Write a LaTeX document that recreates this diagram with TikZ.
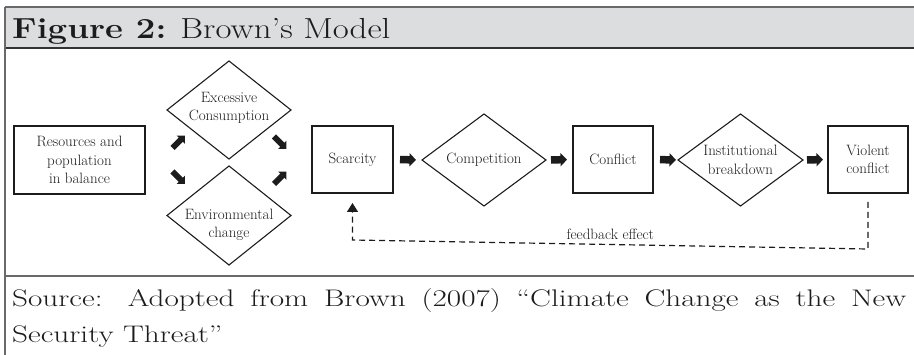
\documentclass[tikz,border=0pt]{standalone}
\usepackage{graphicx}
\usetikzlibrary{shapes.geometric,arrows.meta}

\definecolor{headgray}{RGB}{220,221,222}
\definecolor{rulegray}{RGB}{105,105,105}
\definecolor{ink}{RGB}{28,28,28}

\newcommand\diagfont{\fontsize{15}{18.5}\selectfont}
\newcommand\notefont{\fontsize{24}{36}\selectfont}

\begin{document}
\begin{tikzpicture}[x=1pt,y=-1pt,
  box/.style={draw=ink, line width=1.1pt, rectangle, inner sep=0pt, outer sep=0pt,
    align=center, font=\diagfont, text=ink},
  dia/.style={draw=ink, line width=1.1pt, diamond, inner sep=0pt, outer sep=0pt,
    minimum width=124pt},
  lbl/.style={inner sep=0pt, align=center, font=\diagfont, text=ink},
  note/.style={anchor=base west, inner sep=0pt, text=ink, font=\notefont},
  blockarrow/.style={draw=ink, line width=7.5pt, -{Triangle[length=6.5pt,width=13pt]}},
  smallarrow/.style={draw=ink, line width=6pt, -{Triangle[length=6pt,width=11.5pt]}},
  feedback/.style={draw=ink, line width=1.2pt, dash pattern=on 6pt off 4pt,
    -{Triangle[length=9pt,width=11pt]}}
]
\useasboundingbox (0,0) rectangle (914,355);

% header band and frame
\fill[headgray] (5,7) rectangle (914,48);
\draw[rulegray, line width=2pt] (5,7) -- (914,7);
\draw[ink!90, line width=2pt] (5,48) -- (914,48);
\draw[rulegray, line width=1.5pt] (5,7) -- (5,355);
\draw[rulegray, line width=1.5pt] (5,276) -- (914,276);

\node[anchor=base west, inner sep=0pt, text=ink, font=\fontsize{29}{32}\selectfont]
  (title) at (12,39) {\scalebox{1.2}[1]{\textbf{Figure 2:} Brown’s Model}};

% boxes
\node[box, minimum width=131pt, minimum height=68pt] (res) at (79.5,160)
  {Resources and\\population\\in balance};
\node[box, minimum width=81pt, minimum height=67pt] (scar) at (352.5,159.5) {Scarcity};
\node[box, minimum width=80pt, minimum height=67pt] (conf) at (613,159.5) {Conflict};
\node[box, minimum width=80pt, minimum height=67pt] (viol) at (868,159.5)
  {Violent\\conflict};

% diamonds
\node[dia, minimum height=98pt] (exc) at (229,110) {};
\node[lbl] (exct) at (229,108) {Excessive\\Consumption};
\node[dia, minimum height=99pt] (env) at (229,215.5) {};
\node[lbl] (envt) at (229,225) {Environmental\\change};
\node[dia, minimum height=92pt] (comp) at (484,160) {};
\node[lbl] (compt) at (484,160) {Competition};
\node[dia, minimum width=125pt, minimum height=92pt] (inst) at (740.5,160) {};
\node[lbl] (instt) at (740.5,160) {Institutional\\breakdown};

% diagonal arrows around the two drivers
\coordinate (a1s) at (172.5,148);   \coordinate (a1e) at (185,135.5);
\coordinate (a2s) at (172.5,171.5); \coordinate (a2e) at (185,184);
\coordinate (a3s) at (274,136.5);   \coordinate (a3e) at (286.5,149);
\coordinate (a4s) at (274,184);     \coordinate (a4e) at (286.5,171.5);
\draw[smallarrow] (a1s) -- (a1e);
\draw[smallarrow] (a2s) -- (a2e);
\draw[smallarrow] (a3s) -- (a3e);
\draw[smallarrow] (a4s) -- (a4e);

% main chain
\draw[blockarrow, shorten <=7pt, shorten >=6pt] (scar.east) -- (comp.west);
\draw[blockarrow, shorten <=5pt, shorten >=6pt] (comp.east) -- (conf.west);
\draw[blockarrow, shorten <=7pt, shorten >=2pt] (conf.east) -- (inst.west);
\draw[blockarrow, shorten <=4pt, shorten >=5pt] (inst.east) -- (viol.west);

% feedback loop
\draw[feedback] ([yshift=-9pt]viol.south) -- ([yshift=-9pt]viol.south |- 0,240)
  -- node[lbl, above=4pt] (fbt) {feedback effect} (scar.south |- 0,240)
  -- ([yshift=-10pt]scar.south);

% source note
\node[note] (src1) at (12,307)
  {\scalebox{1.3}[1]{\makebox[687.7pt][s]{Source: Adopted from Brown (2007) “Climate Change as the New}}};
\node[note] (src2) at (12,343) {\scalebox{1.3}[1]{Security Threat”}};
\end{tikzpicture}
\end{document}
